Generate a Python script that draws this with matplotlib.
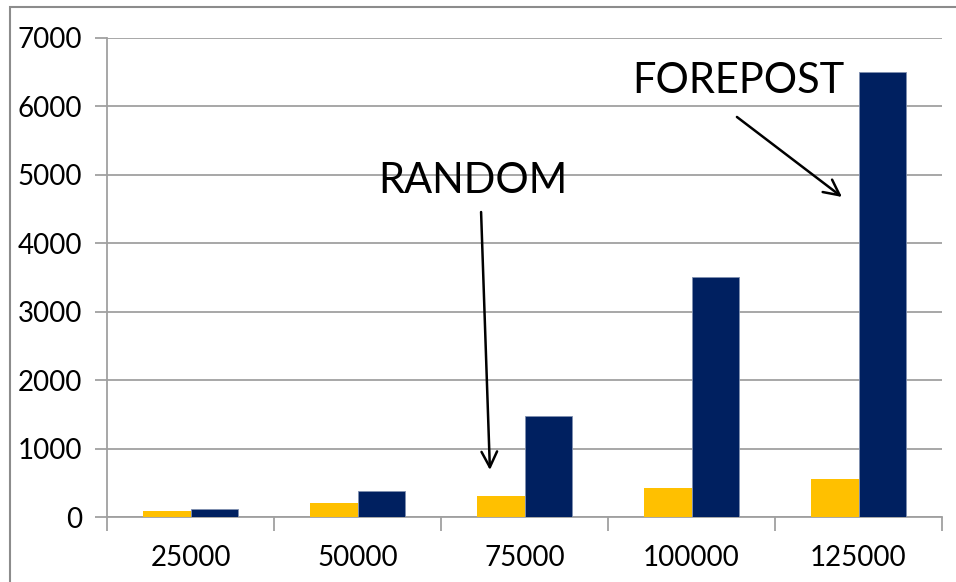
import numpy as np
import matplotlib.pyplot as plt
from matplotlib.patches import Rectangle

plt.rcParams['font.family'] = ['Lato', 'DejaVu Sans']

# data
sizes = ['25000', '50000', '75000', '100000', '125000']
random_vals = [92, 205, 302, 428, 555]
forepost_vals = [112, 375, 1480, 3505, 6505]

W, H = 956, 582
fig = plt.figure(figsize=(W / 100, H / 100), dpi=100)

# outer chart frame (runs off the right and bottom edges)
fig.patches.append(Rectangle((10 / W, -0.1), 1.2, (H - 7) / H + 0.1,
                             transform=fig.transFigure, fill=False,
                             edgecolor='#8c8c8c', linewidth=1.5, zorder=0))

ax = fig.add_axes([107 / W, (H - 517) / H, (942 - 107) / W, (517 - 38) / H])

x = np.arange(len(sizes))
bw = 1 / 3.5  # Excel gap width 150%
ax.bar(x - bw / 2, random_vals, bw, color='#FFC000', zorder=3)
ax.bar(x + bw / 2, forepost_vals, bw, color='#002060', edgecolor='#7f8fb0',
       linewidth=0.6, zorder=3)

ax.set_xlim(-0.5, len(sizes) - 0.5)
ax.set_ylim(0, 7000)
ax.set_yticks(np.arange(0, 7001, 1000))
ax.yaxis.grid(True, color='#a0a0a0', linewidth=1.3, zorder=0)

ax.set_xticks(x)
ax.set_xticklabels(sizes)
ax.set_xticks(np.arange(-0.5, len(sizes), 1), minor=True)
ax.tick_params(axis='x', which='major', length=0, labelsize=20, pad=20)
ax.tick_params(axis='x', which='minor', length=10, width=1.3, color='#a0a0a0', direction='out')
ax.tick_params(axis='y', length=9, width=1.3, color='#a0a0a0', labelsize=20, pad=9)

for s in ['top', 'right']:
    ax.spines[s].set_visible(False)
for s in ['left', 'bottom']:
    ax.spines[s].set_color('#a0a0a0')
    ax.spines[s].set_linewidth(1.3)

# callouts
ax.text(1.689, 4735, 'RANDOM', ha='center', va='baseline', fontsize=30, zorder=5)
ax.annotate('', xy=(1.793, 687), xytext=(1.740, 4457),
            arrowprops=dict(arrowstyle='->', color='black', lw=1.8,
                            mutation_scale=28, shrinkA=0, shrinkB=0), zorder=5)
ax.text(3.281, 6196, 'FOREPOST', ha='center', va='baseline', fontsize=30, zorder=5)
ax.annotate('', xy=(3.901, 4677), xytext=(3.272, 5846),
            arrowprops=dict(arrowstyle='->', color='black', lw=1.8,
                            mutation_scale=28, shrinkA=0, shrinkB=0), zorder=5)

fig.savefig('out.png', dpi=100)
